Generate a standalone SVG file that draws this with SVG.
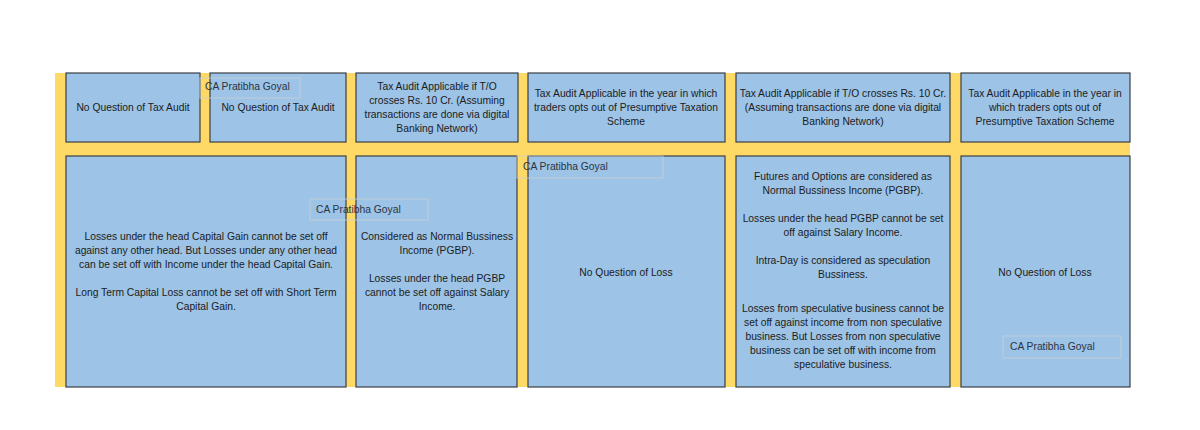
<svg xmlns="http://www.w3.org/2000/svg" width="1200" height="430" viewBox="0 0 1200 430">
<style>
.b{fill:#9dc3e6;stroke:#3a3f45;stroke-width:1.2}
text{font-family:"Liberation Sans",Arial,sans-serif;font-size:10.3px;fill:#1c1c1c;text-anchor:middle}
.w{fill:none;stroke:#c9cfd6;stroke-width:0.8}
text.m{text-anchor:start;fill:#2b3442}
</style>
<rect width="1200" height="430" fill="#fff"/>
<rect x="55" y="73" width="1075" height="314" fill="#ffd966"/>
<g id="t1"><rect class="b" x="66" y="73" width="134" height="69"/><text x="133" y="111">No Question of Tax Audit</text></g>
<g id="t2"><rect class="b" x="210" y="73" width="136" height="69"/><text x="278" y="111">No Question of Tax Audit</text></g>
<g id="t3"><rect class="b" x="356" y="73" width="162" height="69"/><text x="437" y="90">Tax Audit Applicable if T/O</text><text x="437" y="104">crosses Rs. 10 Cr. (Assuming</text><text x="437" y="118">transactions are done via digital</text><text x="437" y="132">Banking Network)</text></g>
<g id="t4"><rect class="b" x="528" y="73" width="197" height="69"/><text x="626" y="97">Tax Audit Applicable in the year in which</text><text x="626" y="111">traders opts out of Presumptive Taxation</text><text x="626" y="125">Scheme</text></g>
<g id="t5"><rect class="b" x="736" y="73" width="214" height="69"/><text x="843" y="97">Tax Audit Applicable if T/O crosses Rs. 10 Cr.</text><text x="843" y="111">(Assuming transactions are done via digital</text><text x="843" y="125">Banking Network)</text></g>
<g id="t6"><rect class="b" x="961" y="73" width="169" height="69"/><text x="1045" y="97">Tax Audit Applicable in the year in</text><text x="1045" y="111">which traders opts out of</text><text x="1045" y="125">Presumptive Taxation Scheme</text></g>
<g id="bA"><rect class="b" x="66" y="156" width="280" height="231"/><text x="206" y="240">Losses under the head Capital Gain cannot be set off</text><text x="206" y="254">against any other head. But Losses under any other head</text><text x="206" y="268">can be set off with Income under the head Capital Gain.</text><text x="206" y="296">Long Term Capital Loss cannot be set off with Short Term</text><text x="206" y="310">Capital Gain.</text></g>
<g id="bB"><rect class="b" x="356" y="156" width="161" height="231"/><text x="437" y="240">Considered as Normal Bussiness</text><text x="437" y="254">Income (PGBP).</text><text x="437" y="282">Losses under the head PGBP</text><text x="437" y="296">cannot be set off against Salary</text><text x="437" y="310">Income.</text></g>
<g id="bC"><rect class="b" x="528" y="156" width="197" height="231"/><text x="626" y="276">No Question of Loss</text></g>
<g id="bD"><rect class="b" x="736" y="156" width="214" height="231"/><text x="843" y="180">Futures and Options are considered as</text><text x="843" y="194">Normal Bussiness Income (PGBP).</text><text x="843" y="222">Losses under the head PGBP cannot be set</text><text x="843" y="236">off against Salary Income.</text><text x="843" y="264">Intra-Day is considered as speculation</text><text x="843" y="278">Bussiness.</text><text x="843" y="312">Losses from speculative business cannot be</text><text x="843" y="326">set off against income from non speculative</text><text x="843" y="340">business. But Losses from non speculative</text><text x="843" y="354">business can be set off with income from</text><text x="843" y="368">speculative business.</text></g>
<g id="bE"><rect class="b" x="961" y="156" width="169" height="231"/><text x="1045" y="276">No Question of Loss</text></g>
<g id="wm">
<rect class="w" x="200" y="78" width="100" height="20"/><text class="m" x="205" y="90">CA Pratibha Goyal</text>
<rect class="w" x="310" y="199" width="118" height="21"/><text class="m" x="316" y="213">CA Pratibha Goyal</text>
<rect class="w" x="517" y="156" width="146" height="22"/><text class="m" x="523" y="170">CA Pratibha Goyal</text>
<rect class="w" x="1003" y="336" width="118" height="22"/><text class="m" x="1010" y="350">CA Pratibha Goyal</text>
</g>
<g id="connectors"/>
</svg>
